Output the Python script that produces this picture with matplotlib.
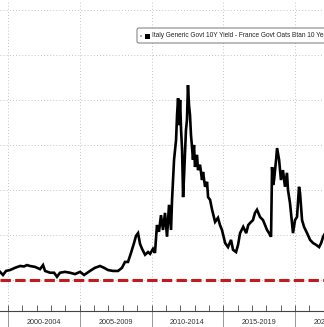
import matplotlib
matplotlib.use("Agg")
import matplotlib.pyplot as plt
from matplotlib.patches import FancyBboxPatch, Rectangle
from matplotlib.transforms import blended_transform_factory

# Italy 10Y minus France 10Y spread, bp
years = [1999.44, 1999.65, 1999.86, 2000.14, 2000.49, 2000.84, 2001.11, 2001.32, 2001.53, 2001.88,
	2002.23, 2002.44, 2002.58, 2002.93, 2003.21, 2003.41, 2003.62, 2003.97, 2004.32, 2004.67,
	2005.02, 2005.30, 2005.71, 2006.06, 2006.41, 2006.69, 2006.97, 2007.32, 2007.67, 2007.94,
	2008.15, 2008.36, 2008.57, 2008.78, 2008.92, 2009.06, 2009.20, 2009.34, 2009.55, 2009.76,
	2009.90, 2010.10, 2010.24, 2010.38, 2010.52, 2010.66, 2010.80, 2010.94, 2011.08, 2011.22,
	2011.36, 2011.43, 2011.57, 2011.71, 2011.78, 2011.85, 2011.92, 2011.99, 2012.06, 2012.13,
	2012.20, 2012.27, 2012.33, 2012.40, 2012.47, 2012.54, 2012.61, 2012.68, 2012.75, 2012.82,
	2012.89, 2012.96, 2013.03, 2013.17, 2013.24, 2013.38, 2013.52, 2013.59, 2013.73, 2013.87,
	2013.94, 2014.08, 2014.22, 2014.43, 2014.63, 2014.77, 2014.91, 2015.13, 2015.33, 2015.54,
	2015.68, 2015.89, 2016.03, 2016.17, 2016.39, 2016.60, 2016.74, 2016.88, 2017.07, 2017.21,
	2017.35, 2017.56, 2017.77, 2017.91, 2018.05, 2018.19, 2018.33, 2018.40, 2018.47, 2018.54,
	2018.68, 2018.75, 2018.89, 2019.02, 2019.16, 2019.30, 2019.44, 2019.51, 2019.65, 2019.79,
	2019.86, 2020.00, 2020.14, 2020.28, 2020.35, 2020.49, 2020.63, 2020.84, 2021.05, 2021.26,
	2021.47, 2021.68, 2021.82, 2021.96, 2022.10]
spread_bp = [18, 11, 20, 22, 27, 31, 30, 33, 31, 29,
	24, 33, 20, 16, 16, 7, 16, 18, 16, 13,
	18, 11, 20, 27, 31, 27, 22, 20, 20, 27,
	40, 40, 60, 82, 98, 104, 80, 69, 56, 62,
	58, 69, 60, 122, 107, 144, 111, 149, 96, 167,
	111, 178, 267, 311, 367, 404, 344, 400, 333, 289,
	184, 233, 282, 333, 356, 433, 389, 367, 322, 296,
	267, 300, 251, 278, 244, 256, 222, 240, 207, 218,
	184, 178, 156, 129, 138, 122, 111, 82, 73, 89,
	67, 62, 78, 104, 118, 104, 122, 127, 133, 149,
	156, 140, 133, 122, 111, 104, 96, 251, 211, 222,
	267, 293, 267, 222, 244, 207, 238, 200, 171, 127,
	104, 133, 140, 207, 193, 133, 118, 104, 89, 82,
	78, 73, 82, 96, 104]

period_edges = [2000, 2005, 2010, 2015, 2020]
period_labels = ["2000-2004", "2005-2009", "2010-2014", "2015-2019", "2020-2024"]
legend_text = "Italy Generic Govt 10Y Yield - France Govt Oats Btan 10 Year Yield Spread"


def main():
	W, H = 324, 327
	fig = plt.figure(figsize=(W / 100, H / 100), dpi=100)
	ax = fig.add_axes([0, 16 / H, 1, 311 / H])

	ax.plot(years, spread_bp, color="black", linewidth=1.9, solid_joinstyle="miter", zorder=3)
	ax.axhline(0, color="#c41a1f", linewidth=2.2, dashes=(3.4, 1.4), zorder=4)

	ax.set_xlim(1999.44, 2022.02)
	ax.set_ylim(-69, 622)

	# dotted grid
	for x in period_edges:
		ax.axvline(x, color="#c4c4c4", linewidth=0.7, linestyle=(0, (1, 2.2)), zorder=1)
	for y in range(0, 700, 100):
		ax.axhline(y, color="#c4c4c4", linewidth=0.7, linestyle=(0, (1, 2.2)), zorder=1)

	for s in ["left", "right", "top"]:
		ax.spines[s].set_visible(False)
	ax.spines["bottom"].set_color("#444444")
	ax.spines["bottom"].set_linewidth(0.8)
	ax.set_yticks([])

	# yearly ticks inside, period separators below the axis
	ax.set_xticks(range(2000, 2023))
	ax.tick_params(axis="x", which="major", direction="in", length=4, width=0.6,
		color="#444444", labelbottom=False)
	ax.xaxis.remove_overlapping_locs = False
	ax.set_xticks(period_edges, minor=True)
	ax.tick_params(axis="x", which="minor", direction="out", length=17, width=0.6,
		color="#888888", labelbottom=False)

	trans = blended_transform_factory(ax.transData, fig.transFigure)
	for x, lab in zip(period_edges, period_labels):
		ax.text(x + 2.5, 4.5 / H, lab, transform=trans, ha="center", va="center",
			fontsize=5.2, family="Liberation Sans", color="#333333", clip_on=False)

	# legend box, cut off at the right edge like the source
	box = FancyBboxPatch((137 / W, (H - 43) / H), 220 / W, 15 / H,
		boxstyle="round,pad=0,rounding_size=0.006", transform=fig.transFigure,
		facecolor="white", edgecolor="#777777", linewidth=0.7, zorder=10)
	fig.add_artist(box)
	fig.add_artist(Rectangle((140 / W, (H - 37) / H), 2 / W, 2 / H, transform=fig.transFigure,
		facecolor="#aaaaaa", edgecolor="none", zorder=11))
	fig.add_artist(Rectangle((144.5 / W, (H - 38.5) / H), 5 / W, 5 / H, transform=fig.transFigure,
		facecolor="black", edgecolor="none", zorder=11))
	fig.text(152 / W, (H - 35.8) / H, legend_text, fontsize=4.7, family="Liberation Sans",
		color="#222222", va="center", ha="left", zorder=12)

	fig.savefig("out.png", dpi=100)


if __name__ == "__main__":
	main()
